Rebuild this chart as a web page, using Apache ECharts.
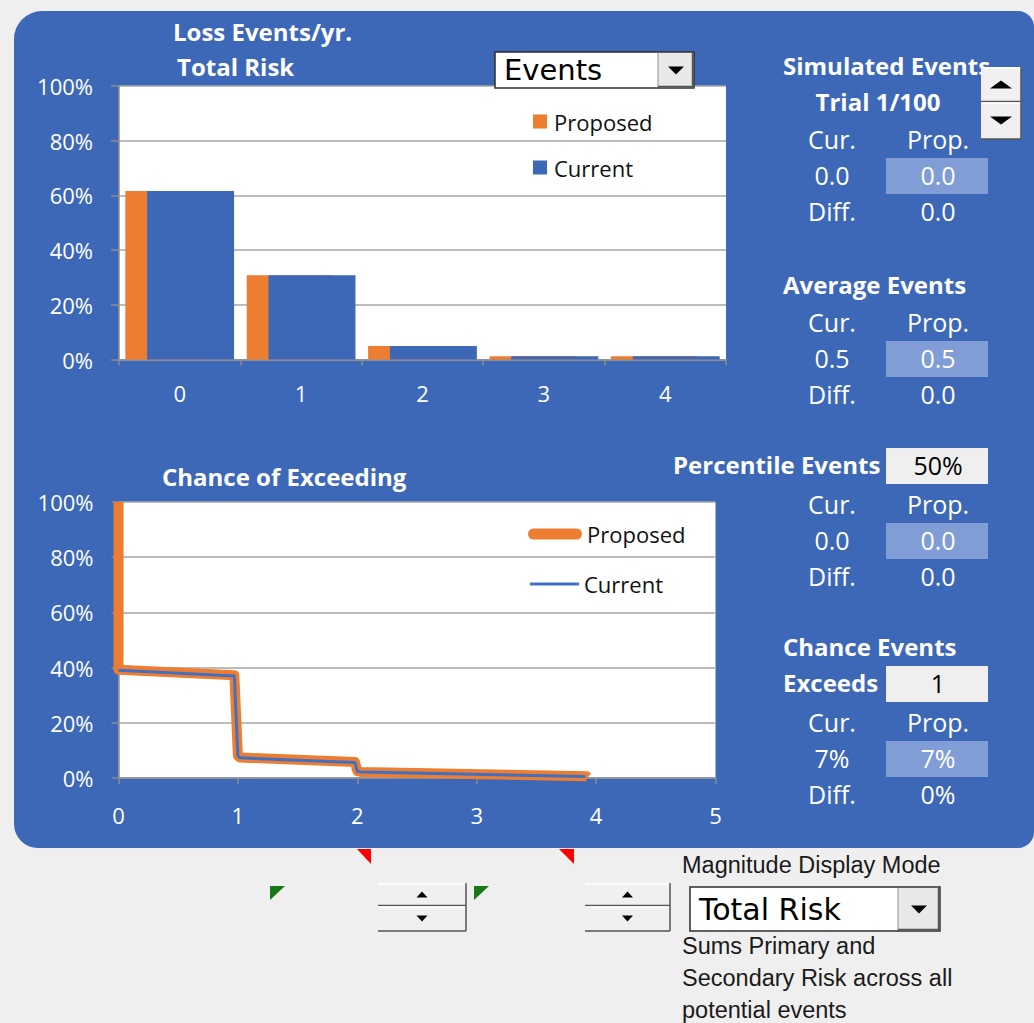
<!DOCTYPE html>
<html>
<head>
<meta charset="utf-8">
<script src="https://cdn.jsdelivr.net/npm/echarts@6/dist/echarts.min.js"></script>
<style>
  html, body { margin: 0; padding: 0; background: #efefef; }
  #chart { width: 1034px; height: 1023px; }
</style>
</head>
<body>
<div id="chart"></div>
<script>
// ---- Loss events per year: share of simulated years with N events ----
const eventCounts = ['0', '1', '2', '3', '4'];
const proposedShare = [61.6, 30.8, 4.9, 1.2, 1.2];
const currentShare = [61.6, 30.8, 4.9, 1.2, 1.2];

// ---- Chance of exceeding N events ([events, percent]) ----
const exceedProposed = [[0, 100], [0, 39.2], [0.97, 37.2], [1.0, 8.0], [1.02, 7.4], [1.98, 5.8], [2.0, 2.5], [2.03, 2.2], [3.92, 0.6], [3.93, 0.2]];
const exceedCurrent = [[0, 39.0], [0.97, 37.0], [1.0, 7.9], [1.02, 7.3], [1.98, 5.6], [2.0, 2.4], [2.03, 2.2], [3.91, 0.5]];

// ---- Side panel statistics: [current, proposed, difference] ----
const trialLabel = 'Trial 1/100';
const simulatedStats = ['0.0', '0.0', '0.0'];
const averageStats = ['0.5', '0.5', '0.0'];
const percentileLevel = '50%';
const percentileStats = ['0.0', '0.0', '0.0'];
const exceedThreshold = '1';
const chanceStats = ['7%', '7%', '0%'];

const BLUE = '#3D68B8';
const LINE_BLUE = '#4170C2';
const ORANGE = '#ED7D31';
const HILITE = '#819DD6';
const FIELD = '#EFEFEF';
const GRID = '#A6A6A6';
const AXIS = '#8C8C8C';
const SANS = '"Open Sans", sans-serif';

function txt(x, y, text, o) {
  o = o || {};
  const font = (o.bold ? 'bold ' : '') + (o.size || 25) + 'px ' + (o.family || SANS);
  const align = o.align || 'center';
  return {
    type: 'text', x: x, y: y - 1.5, z: 10, silent: true,
    style: { text: text, fill: o.fill || '#fff', font: font,
             align: align, textAlign: align, verticalAlign: 'middle', textVerticalAlign: 'middle' }
  };
}
function box(x, y, w, h, fill, extra) {
  return Object.assign({ type: 'rect', z: 5, silent: true, shape: { x: x, y: y, width: w, height: h },
           style: { fill: fill } }, extra || {});
}
function tri(points, fill) {
  return { type: 'polygon', z: 12, silent: true, shape: { points: points }, style: { fill: fill || '#000' } };
}
function hline(x1, x2, y, color, z) {
  return { type: 'line', z: z || 11, silent: true, shape: { x1: x1, y1: y, x2: x2, y2: y }, style: { stroke: color, lineWidth: 1.5 } };
}
function vline(x, y1, y2, color, z) {
  return { type: 'line', z: z || 11, silent: true, shape: { x1: x, y1: y1, x2: x, y2: y2 }, style: { stroke: color, lineWidth: 1.5 } };
}

// A stats block: header row, value row with highlighted proposed cell, difference row
const CX = 832, PX = 938;
function statBlock(yHead, stats) {
  const yVal = yHead + 36, yDiff = yHead + 72;
  return [
    txt(CX, yHead, 'Cur.'), txt(PX, yHead, 'Prop.'),
    box(886, yVal - 18, 102, 36, HILITE),
    txt(CX, yVal, stats[0]), txt(PX, yVal, stats[1]),
    txt(CX, yDiff, 'Diff.'), txt(PX, yDiff, stats[2])
  ];
}
// Vertical pair of spin buttons
function spinner(x, y, w, h1, h2, triW, triH) {
  const cx = x + w / 2, mid = y + h1;
  const upC = y + h1 / 2, dnC = mid + h2 / 2;
  return [
    box(x, y, w, h1, '#F0F0F0', { z: 11 }),
    box(x, mid, w, h2, '#F0F0F0', { z: 11 }),
    hline(x, x + w, y + 0.75, '#FFFFFF'),
    hline(x, x + w, mid - 0.5, '#555555'),
    hline(x, x + w, mid + 1, '#FFFFFF'),
    hline(x, x + w, mid + h2, '#555555'),
    vline(x + w, y, mid + h2, '#555555'),
    tri([[cx - triW / 2, upC + triH / 2], [cx + triW / 2, upC + triH / 2], [cx, upC - triH / 2]]),
    tri([[cx - triW / 2, dnC - triH / 2], [cx + triW / 2, dnC - triH / 2], [cx, dnC + triH / 2]])
  ];
}
// Drop-down field with arrow button
function dropdown(x, y, w, h, btnW, label, size) {
  const bx = x + w - btnW;
  const cy = y + h / 2;
  return [
    box(x, y, w, h, '#FFFFFF', { z: 10, style: { fill: '#FFFFFF', stroke: '#2E2E2E', lineWidth: 1.5 } }),
    box(bx, y + 1, btnW - 1, h - 2, '#E8E8E8', { z: 11 }),
    vline(bx, y + 1, y + h - 1, '#B0B0B0'),
    hline(bx, x + w - 1, y + h - 1.5, '#555555'),
    vline(x + w - 1.5, y + 1, y + h - 1, '#555555'),
    tri([[bx + btnW / 2 - 8, cy - 3.5], [bx + btnW / 2 + 8, cy - 3.5], [bx + btnW / 2, cy + 4.5]]),
    txt(x + 9, cy + 1.5, label, { fill: '#000', size: size, family: '"DejaVu Sans", sans-serif', align: 'left' })
  ];
}

const graphics = [].concat(
  [{ type: 'rect', z: -10, silent: true, shape: { x: 14, y: 11, width: 1020, height: 837, r: [28, 16, 16, 24] }, style: { fill: BLUE } }],
  // Chart titles
  [txt(173, 33, 'Loss Events/yr.', { bold: true, size: 24, align: 'left' }),
   txt(177, 68, 'Total Risk', { bold: true, size: 24, align: 'left' }),
   txt(162, 478, 'Chance of Exceeding', { bold: true, size: 24, align: 'left' })],
  dropdown(495, 52, 199, 36, 36, 'Events', 29),
  // Simulated events
  [txt(783, 67, 'Simulated Events', { bold: true, size: 24, align: 'left' }),
   txt(878, 103, trialLabel, { bold: true, size: 24 })],
  statBlock(140, simulatedStats),
  spinner(981, 67, 40, 35, 37, 22, 8),
  // Average events
  [txt(783, 286, 'Average Events', { bold: true, size: 24, align: 'left' })],
  statBlock(323, averageStats),
  // Percentile events
  [txt(673, 466, 'Percentile Events', { bold: true, size: 24, align: 'left' }),
   box(886, 448, 102, 36, FIELD), txt(PX, 466, percentileLevel, { fill: '#000' })],
  statBlock(505, percentileStats),
  // Chance events exceeds
  [txt(783, 648, 'Chance Events', { bold: true, size: 24, align: 'left' }),
   txt(783, 684, 'Exceeds', { bold: true, size: 24, align: 'left' }),
   box(886, 666, 102, 36, FIELD), txt(PX, 684, exceedThreshold, { fill: '#000' })],
  statBlock(723, chanceStats),
  // Controls below the panel
  [tri([[357, 849], [371, 849], [371, 864]], '#FF0000'),
   tri([[559, 849], [574, 849], [574, 864]], '#FF0000'),
   tri([[270, 886], [285, 886], [270, 900]], '#167A16'),
   tri([[474, 886], [489, 886], [474, 900]], '#167A16')],
  spinner(378, 883, 88, 23, 25, 11, 6),
  spinner(585, 883, 85, 23, 25, 11, 6),
  [txt(682, 866, 'Magnitude Display Mode', { fill: '#1A1A1A', size: 23.5, family: '"Liberation Sans", Arial, sans-serif', align: 'left' })],
  dropdown(690, 887, 250, 44, 42, 'Total Risk', 30),
  [txt(682, 947, 'Sums Primary and', { fill: '#1A1A1A', size: 23.5, family: '"Liberation Sans", Arial, sans-serif', align: 'left' }),
   txt(682, 979, 'Secondary Risk across all', { fill: '#1A1A1A', size: 23.5, family: '"Liberation Sans", Arial, sans-serif', align: 'left' }),
   txt(682, 1011, 'potential events', { fill: '#1A1A1A', size: 23.5, family: '"Liberation Sans", Arial, sans-serif', align: 'left' })]
);

const axisLabelStyle = { color: '#fff', fontSize: 22, fontFamily: SANS };
const legendText = { color: '#111', fontSize: 22, fontFamily: SANS };

const option = {
  animation: false,
  backgroundColor: '#efefef',
  textStyle: { fontFamily: SANS },
  grid: [
    { left: 119, top: 86, width: 607, height: 273.5, show: true, backgroundColor: '#fff', borderWidth: 0 },
    { left: 118.5, top: 502, width: 597, height: 276, show: true, backgroundColor: '#fff', borderWidth: 0 }
  ],
  xAxis: [
    { type: 'category', gridIndex: 0, data: eventCounts,
      axisLine: { lineStyle: { color: AXIS, width: 1.5 } },
      axisTick: { show: true, length: 6, alignWithLabel: false, lineStyle: { color: AXIS, width: 1.5 } },
      axisLabel: Object.assign({ margin: 22 }, axisLabelStyle),
      splitLine: { show: false } },
    { type: 'value', gridIndex: 1, min: 0, max: 5, interval: 1,
      axisLine: { lineStyle: { color: AXIS, width: 1.5 } },
      axisTick: { show: true, length: 6, lineStyle: { color: AXIS, width: 1.5 } },
      axisLabel: Object.assign({ margin: 26 }, axisLabelStyle),
      splitLine: { show: false } }
  ],
  yAxis: [
    { type: 'value', gridIndex: 0, min: 0, max: 100, interval: 20,
      axisLine: { show: true, lineStyle: { color: AXIS, width: 1.5 } },
      axisTick: { show: true, length: 8, lineStyle: { color: AXIS, width: 1.5 } },
      axisLabel: Object.assign({ margin: 26, formatter: '{value}%' }, axisLabelStyle),
      splitLine: { lineStyle: { color: GRID, width: 1.5 } } },
    { type: 'value', gridIndex: 1, min: 0, max: 100, interval: 20,
      axisLine: { show: true, lineStyle: { color: AXIS, width: 1.5 } },
      axisTick: { show: true, length: 7, lineStyle: { color: AXIS, width: 1.5 } },
      axisLabel: Object.assign({ margin: 25, formatter: '{value}%' }, axisLabelStyle),
      splitLine: { lineStyle: { color: GRID, width: 1.5 } } }
  ],
  legend: [
    { orient: 'vertical', left: 528, top: 105.5, itemWidth: 14, itemHeight: 14, itemGap: 24,
      textStyle: Object.assign({ padding: [0, 0, 0, 2] }, legendText), selectedMode: false,
      data: [{ name: 'Proposed', icon: 'rect', itemStyle: { color: ORANGE, borderWidth: 0 } },
             { name: 'Current', icon: 'rect', itemStyle: { color: BLUE, borderWidth: 0 } }] },
    { left: 523, top: 518, itemWidth: 54, itemHeight: 11, selectedMode: false, textStyle: legendText,
      data: [{ name: 'Proposed', icon: 'path://M5.5,0H48.5A5.5,5.5,0,0,1,48.5,11H5.5A5.5,5.5,0,0,1,5.5,0Z',
               itemStyle: { color: ORANGE, borderWidth: 0 } }] },
    { left: 525, top: 568, itemWidth: 49, itemHeight: 3, selectedMode: false, textStyle: legendText,
      data: [{ name: 'Current', icon: 'rect', itemStyle: { color: LINE_BLUE, borderWidth: 0 } }] }
  ],
  series: [
    { name: 'Proposed', type: 'bar', xAxisIndex: 0, yAxisIndex: 0, data: proposedShare,
      barWidth: 87, barGap: '-75%', itemStyle: { color: ORANGE } },
    { name: 'Current', type: 'bar', xAxisIndex: 0, yAxisIndex: 0, data: currentShare,
      barWidth: 87, barGap: '-75%', itemStyle: { color: BLUE } },
    { name: 'Proposed', type: 'line', xAxisIndex: 1, yAxisIndex: 1, data: exceedProposed,
      showSymbol: false, symbol: 'none', color: ORANGE, z: 3,
      lineStyle: { color: ORANGE, width: 10, cap: 'butt', join: 'round' } },
    { name: 'Current', type: 'line', xAxisIndex: 1, yAxisIndex: 1, data: exceedCurrent,
      showSymbol: false, symbol: 'none', color: LINE_BLUE, z: 4,
      lineStyle: { color: LINE_BLUE, width: 3, join: 'round' } }
  ],
  graphic: { elements: graphics }
};

const chart = echarts.init(document.getElementById('chart'), null, { renderer: 'svg', width: 1034, height: 1023 });
chart.setOption(option);
</script>
</body>
</html>
